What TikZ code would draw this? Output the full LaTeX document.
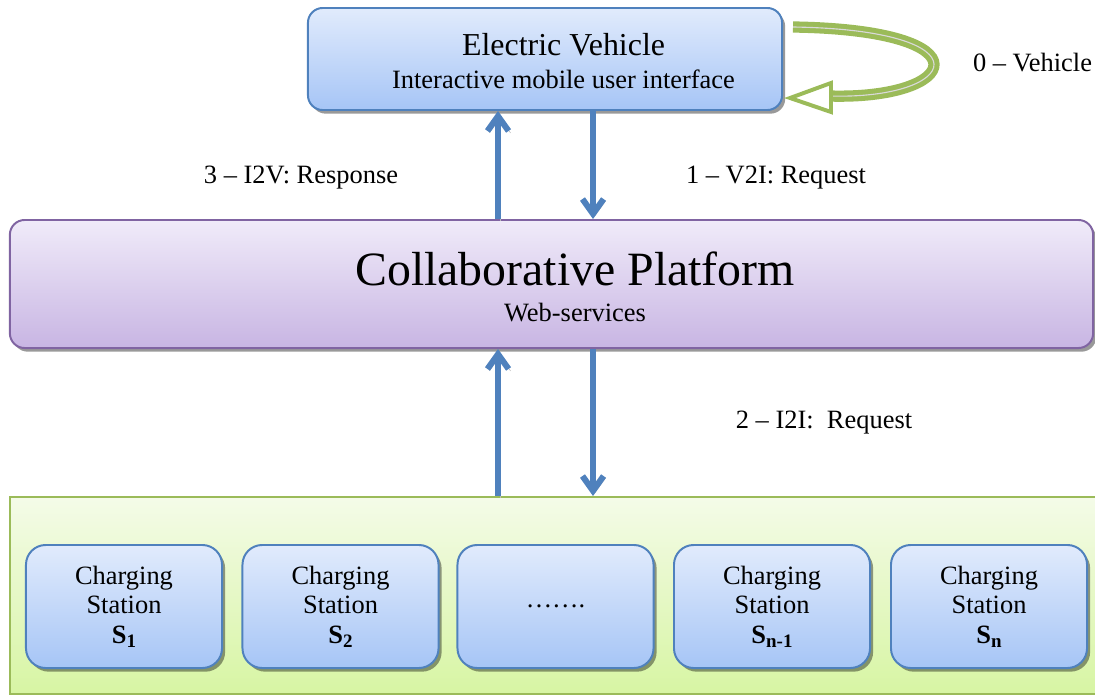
\documentclass[tikz,border=0pt]{standalone}
\usepackage{fontspec}
\setmainfont{Liberation Serif}
\usetikzlibrary{arrows.meta,shadows}

\definecolor{evline}{HTML}{4F81BD}
\definecolor{evtop}{HTML}{E1EBFC}
\definecolor{evbot}{HTML}{A6C5F6}
\definecolor{platline}{HTML}{8064A2}
\definecolor{plattop}{HTML}{F0EBF9}
\definecolor{platbot}{HTML}{C8B5E3}
\definecolor{gridline}{HTML}{9BBB59}
\definecolor{gridtop}{HTML}{F4FBE8}
\definecolor{gridbot}{HTML}{D7F5A3}
\definecolor{loopgap}{HTML}{D9D9D9}

\newcommand\stname[1]{\textbf{S\raisebox{-0.35ex}{\fontsize{13.5}{14}\selectfont #1}}}

\tikzset{
  boxshadow/.style={drop shadow={shadow xshift=2.2pt, shadow yshift=-2.6pt, fill=black, opacity=0.4}},
  evbox/.style={draw=evline, line width=1.4pt, rounded corners=10.5pt,
    top color=evtop, bottom color=evbot, boxshadow,
    minimum width=11.85cm, minimum height=2.55cm},
  platbox/.style={draw=platline, line width=1.4pt, rounded corners=10.5pt,
    top color=plattop, bottom color=platbot, boxshadow,
    minimum width=27.075cm, minimum height=3.2cm},
  gridbox/.style={draw=gridline, line width=1.4pt,
    top color=gridtop, bottom color=gridbot,
    minimum width=27.5cm, minimum height=4.925cm},
  stationbox/.style={draw=evline, line width=1.4pt, rounded corners=14pt,
    top color=evtop, bottom color=evbot, boxshadow,
    minimum width=4.9cm, minimum height=3.075cm, align=center,
    font=\fontsize{18.8}{21}\selectfont},
  boxtext/.style={inner sep=0pt, align=center},
  lbl/.style={inner sep=0pt, anchor=base, font=\fontsize{18.8}{21}\selectfont},
  flow/.style={draw=evline, line width=4.3pt,
    -{Straight Barb[length=10.5pt,width=15pt]},
    preaction={draw=gray!55, transform canvas={shift={(1.4pt,-1.4pt)}}}},
  loopline/.style={draw=gridline, line width=3.6pt, double=loopgap, double distance=0.8pt},
  loophead/.style={draw=gridline, line width=2.8pt, fill=white, line join=miter}
}

\begin{document}
\begin{tikzpicture}[x=0.025cm, y=-0.025cm]
  \clip (0,0) rectangle (1095,697);

  \node[gridbox] (grid) at (560,595.5) {};
  \node[platbox] (cp) at (551.5,284) {};
  \node[boxtext, font=\fontsize{18.8}{25.5}\selectfont] (cptext) at (575,287)
    {{\fontsize{34}{36}\selectfont Collaborative Platform}\\Web-services};
  \node[evbox] (ev) at (545,59) {};
  \node[boxtext, font=\fontsize{18.8}{23.4}\selectfont] (evtext) at (563.5,61)
    {{\fontsize{22.7}{24}\selectfont Electric Vehicle}\\Interactive mobile user interface};

  \node[stationbox] (s1) at (124,606.5) {Charging\\Station\\\stname{1}};
  \node[stationbox] (s2) at (340.5,606.5) {Charging\\Station\\\stname{2}};
  \node[stationbox] (sdots) at (555.5,606.5) {…….};
  \node[stationbox] (sn1) at (772,606.5) {Charging\\Station\\\stname{n-1}};
  \node[stationbox] (sn) at (989,606.5) {Charging\\Station\\\stname{n}};

  \node[lbl] (resp) at (301,183) {3 – I2V: Response};
  \node[lbl] (req) at (776,183) {1 – V2I: Request};
  \node[lbl] (ireq) at (824,428) {2 – I2I:\ \ Request};
  \node[lbl] (self) at (1032.5,71) {0 – Vehicle};

  \coordinate (upx) at (498,0);
  \coordinate (downx) at (593,0);
  \begin{scope}
    \draw[flow] (cp.north -| upx) -- (ev.south -| upx);
    \draw[flow] (ev.south -| downx) -- (cp.north -| downx);
    \draw[flow] (grid.north -| upx) -- (cp.south -| upx);
    \draw[flow] (cp.south -| downx) -- (grid.north -| downx);
  \end{scope}

  \coordinate (loopout) at (793,27);
  \coordinate (loopin) at (829,96);
  \draw[loopline] (loopout) .. controls (990,30) and (960,100) .. (loopin);
  \draw[loophead] (790,98) -- (831,83) -- (831,112) -- cycle;
\end{tikzpicture}
\end{document}
